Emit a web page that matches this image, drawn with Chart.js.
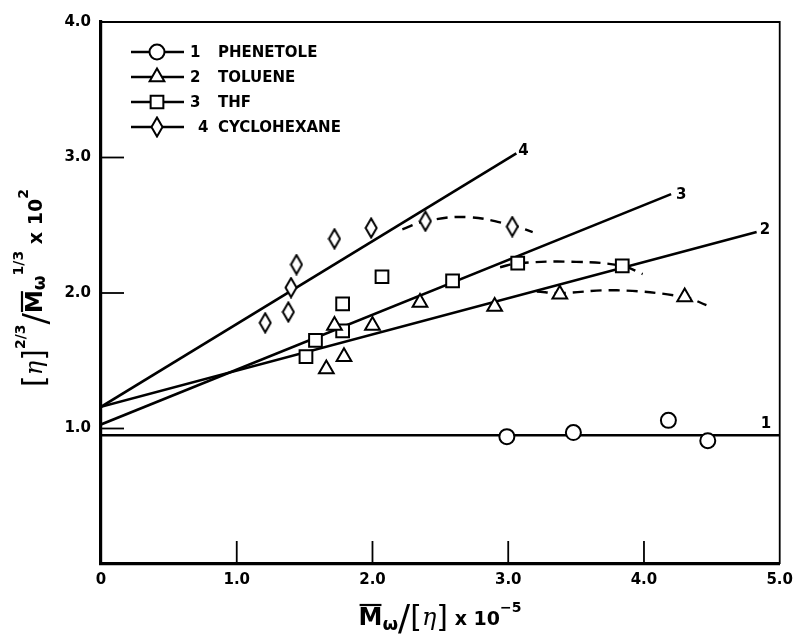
<!DOCTYPE html>
<html>
<head>
<meta charset="utf-8">
<script src="https://cdn.jsdelivr.net/npm/chart.js@4.4.0/dist/chart.umd.min.js"></script>
<style>
  html, body { margin: 0; padding: 0; background: #fff; }
  #wrap { width: 800px; height: 640px; position: relative; }
</style>
</head>
<body>
<div id="wrap"><canvas id="c" width="800" height="640"></canvas></div>
<script>
// ---- axis ticks ----
const xTickValues = [0, 1, 2, 3, 4, 5];
const yTickValues = [0, 1, 2, 3, 4];

// ---- legend entries ----
const seriesNumbers = ['1', '2', '3', '4'];
const seriesNames = ['PHENETOLE', 'TOLUENE', 'THF', 'CYCLOHEXANE'];

// ---- measured points: Mw/[eta] x 1e-5 vs [eta]^(2/3)/Mw^(1/3) x 1e2 ----
const phenetoleX = [2.99, 3.48, 4.18, 4.47];
const phenetoleY = [0.94, 0.97, 1.06, 0.91];

const tolueneX = [1.66, 1.79, 1.72, 2.00, 2.35, 2.90, 3.38, 4.30];
const tolueneY = [1.44, 1.53, 1.76, 1.76, 1.93, 1.90, 1.99, 1.97];

const thfX = [1.51, 1.58, 1.78, 1.78, 2.07, 2.59, 3.07, 3.84];
const thfY = [1.53, 1.65, 1.72, 1.92, 2.12, 2.09, 2.22, 2.20];

const cyclohexaneX = [1.21, 1.38, 1.40, 1.44, 1.72, 1.99, 2.39, 3.03];
const cyclohexaneY = [1.78, 1.86, 2.04, 2.21, 2.40, 2.48, 2.53, 2.49];

// ---- straight-line fits (start and end) ----
const fit1X = [0, 5.0];   const fit1Y = [0.95, 0.95];
const fit2X = [0, 4.83];  const fit2Y = [1.16, 2.45];
const fit3X = [0, 4.20];  const fit3Y = [1.03, 2.73];
const fit4X = [0, 3.06];  const fit4Y = [1.16, 3.03];

// ---- dashed curvature at high Mw/[eta] ----
const bend2X = [3.21, 3.38, 3.80, 4.30, 4.46];
const bend2Y = [2.01, 2.00, 2.02, 1.97, 1.91];
const bend3X = [2.94, 3.07, 3.50, 3.84, 3.99];
const bend3Y = [2.19, 2.22, 2.23, 2.20, 2.14];
const bend4X = [2.22, 2.39, 2.70, 3.03, 3.18];
const bend4Y = [2.47, 2.53, 2.56, 2.50, 2.45];

const pts = (xs, ys) => xs.map((x, i) => ({ x: x, y: ys[i] }));

// tall, narrow diamond marker
function makeDiamond() {
  const cv = document.createElement('canvas');
  cv.width = 14; cv.height = 22;
  const g = cv.getContext('2d');
  g.beginPath();
  g.moveTo(7, 1.5); g.lineTo(12.5, 11); g.lineTo(7, 20.5); g.lineTo(1.5, 11);
  g.closePath();
  g.fillStyle = '#fff'; g.fill();
  g.lineWidth = 2; g.strokeStyle = '#000'; g.stroke();
  return cv;
}
const diamond = makeDiamond();

const markerStyles = [
  { pointStyle: 'circle', radius: 7.5 },
  { pointStyle: 'triangle', radius: 8.5 },
  { pointStyle: 'rect', radius: 9 },
  { pointStyle: diamond, radius: 8 }
];

function fitLine(xs, ys) {
  return { data: pts(xs, ys), showLine: true, borderColor: '#000', borderWidth: 2.6,
           pointRadius: 0, pointHoverRadius: 0, fill: false, order: 3 };
}
function bendLine(xs, ys) {
  return { data: pts(xs, ys), showLine: true, borderColor: '#000', borderWidth: 2.4,
           borderDash: [11, 7], tension: 0.4, pointRadius: 0, pointHoverRadius: 0, fill: false, order: 3 };
}
function markers(xs, ys, k) {
  return { label: seriesNames[k], data: pts(xs, ys), showLine: false,
           pointStyle: markerStyles[k].pointStyle, pointRadius: markerStyles[k].radius,
           pointBackgroundColor: '#fff', pointBorderColor: '#000', pointBorderWidth: 2,
           order: 1 };
}

const BOLD = 'bold 15px "DejaVu Sans", sans-serif';

// frame, inward ticks, line numbers, legend and axis titles
const extras = {
  id: 'extras',
  afterDraw(chart) {
    const ctx = chart.ctx;
    const xs = chart.scales.x, ys = chart.scales.y;
    const a = chart.chartArea;
    ctx.save();
    ctx.strokeStyle = '#000';
    ctx.lineCap = 'butt';
    // top and right frame
    ctx.lineWidth = 2;
    ctx.beginPath(); ctx.moveTo(a.left, a.top); ctx.lineTo(a.right, a.top); ctx.stroke();
    ctx.lineWidth = 1.8;
    ctx.beginPath(); ctx.moveTo(a.right, a.top - 1); ctx.lineTo(a.right, a.bottom); ctx.stroke();
    // inward ticks
    ctx.lineWidth = 1.8;
    [1, 2, 3].forEach(v => {
      const y = ys.getPixelForValue(v);
      ctx.beginPath(); ctx.moveTo(a.left, y); ctx.lineTo(a.left + 23, y); ctx.stroke();
    });
    [1, 2, 3, 4].forEach(v => {
      const x = xs.getPixelForValue(v);
      ctx.beginPath(); ctx.moveTo(x, a.bottom); ctx.lineTo(x, a.bottom - 23); ctx.stroke();
    });
    // line numbers at the ends of the fits
    ctx.fillStyle = '#000';
    ctx.font = BOLD;
    ctx.textAlign = 'left'; ctx.textBaseline = 'middle';
    ctx.fillText('1', xs.getPixelForValue(4.86), ys.getPixelForValue(fit1Y[1]) - 11);
    ctx.fillText('2', xs.getPixelForValue(fit2X[1]) + 3, ys.getPixelForValue(fit2Y[1]) - 2);
    ctx.fillText('3', xs.getPixelForValue(fit3X[1]) + 5, ys.getPixelForValue(fit3Y[1]) + 1);
    ctx.fillText('4', xs.getPixelForValue(fit4X[1]) + 2, ys.getPixelForValue(fit4Y[1]) - 2);

    // legend
    const rows = [52, 77, 102, 127];
    rows.forEach((y, k) => {
      ctx.lineWidth = 2.4;
      ctx.beginPath(); ctx.moveTo(131, y); ctx.lineTo(184, y); ctx.stroke();
      ctx.fillStyle = '#fff'; ctx.lineWidth = 2;
      Chart.helpers.drawPoint(ctx, { pointStyle: markerStyles[k].pointStyle, radius: markerStyles[k].radius,
        rotation: 0, borderWidth: 2 }, 157, y);
      ctx.fillStyle = '#000';
      ctx.font = BOLD;
      ctx.fillText(seriesNumbers[k], k === 3 ? 198 : 190, y + 1);
      ctx.fillText(seriesNames[k], 218, y + 1);
    });

    // x title: Mw/[eta] x 10^-5
    drawRich(ctx, [
      { t: 'M', f: 'bold 24px "DejaVu Sans"', dy: 0, bar: true },
      { t: 'ω', f: 'bold 18px "DejaVu Sans"', dy: 6 },
      { t: '/', f: '36px "DejaVu Sans"', dy: 2 },
      { t: '[', f: '30px "DejaVu Sans"', dy: 0 },
      { t: 'η', f: 'italic 24px "DejaVu Serif"', dy: 0 },
      { t: ']', f: '30px "DejaVu Sans"', dy: 0 },
      { t: ' x 10', f: 'bold 19px "DejaVu Sans"', dy: 1 },
      { t: '−5', f: 'bold 14px "DejaVu Sans"', dy: -11 }
    ], 440, 619);

    // y title: [eta]^(2/3)/Mw^(1/3) x 10^2
    ctx.translate(36, 288);
    ctx.rotate(-Math.PI / 2);
    drawRich(ctx, [
      { t: '[', f: '30px "DejaVu Sans"', dy: 0 },
      { t: 'η', f: 'italic 24px "DejaVu Serif"', dy: 0 },
      { t: ']', f: '30px "DejaVu Sans"', dy: 0 },
      { t: '2/3', f: 'bold 14px "DejaVu Sans"', dy: -15 },
      { t: '/', f: '34px "DejaVu Sans"', dy: 2 },
      { t: 'M', f: 'bold 23px "DejaVu Sans"', dy: 0, bar: true },
      { t: 'ω', f: 'bold 17px "DejaVu Sans"', dy: 5 },
      { t: '1/3', f: 'bold 14px "DejaVu Sans"', dy: -17 },
      { t: ' x 10', f: 'bold 19px "DejaVu Sans"', dy: 1 },
      { t: '2', f: 'bold 14px "DejaVu Sans"', dy: -12 }
    ], 0, 0);
    ctx.restore();
  }
};

function drawRich(ctx, parts, cx, cy) {
  let total = 0;
  parts.forEach(p => { ctx.font = p.f; p.w = ctx.measureText(p.t).width; total += p.w; });
  let x = cx - total / 2;
  ctx.fillStyle = '#000';
  ctx.textAlign = 'left';
  ctx.textBaseline = 'middle';
  parts.forEach(p => {
    ctx.font = p.f;
    ctx.fillText(p.t, x, cy + p.dy);
    if (p.bar) {
      ctx.lineWidth = 2.2;
      ctx.beginPath(); ctx.moveTo(x + 1, cy - 14); ctx.lineTo(x + p.w - 1, cy - 14); ctx.stroke();
    }
    x += p.w;
  });
}

new Chart(document.getElementById('c'), {
  type: 'scatter',
  data: {
    datasets: [
      fitLine(fit1X, fit1Y), fitLine(fit2X, fit2Y), fitLine(fit3X, fit3Y), fitLine(fit4X, fit4Y),
      bendLine(bend2X, bend2Y), bendLine(bend3X, bend3Y), bendLine(bend4X, bend4Y),
      markers(phenetoleX, phenetoleY, 0),
      markers(tolueneX, tolueneY, 1),
      markers(thfX, thfY, 2),
      markers(cyclohexaneX, cyclohexaneY, 3)
    ]
  },
  options: {
    responsive: false,
    devicePixelRatio: 1,
    animation: false,
    events: [],
    layout: { padding: { top: 22, right: 20, left: 0, bottom: 0 } },
    plugins: { legend: { display: false }, tooltip: { enabled: false } },
    scales: {
      x: {
        type: 'linear', min: 0, max: 5,
        afterBuildTicks: s => { s.ticks = xTickValues.map(v => ({ value: v })); },
        afterFit: s => { s.height = 76; },
        grid: { display: false, drawTicks: false },
        border: { display: true, color: '#000', width: 3.2 },
        ticks: { color: '#000', font: { family: 'DejaVu Sans', size: 15, weight: 'bold' }, padding: 7,
                 maxRotation: 0, callback: v => v === 0 ? '0' : Number(v).toFixed(1) }
      },
      y: {
        type: 'linear', min: 0, max: 4,
        afterBuildTicks: s => { s.ticks = yTickValues.map(v => ({ value: v })); },
        afterFit: s => { s.width = 101; },
        grid: { display: false, drawTicks: false },
        border: { display: true, color: '#000', width: 3.2 },
        ticks: { color: '#000', font: { family: 'DejaVu Sans', size: 15, weight: 'bold' }, padding: 10,
                 callback: v => v === 0 ? '' : Number(v).toFixed(1) }
      }
    }
  },
  plugins: [extras]
});
</script>
</body>
</html>
